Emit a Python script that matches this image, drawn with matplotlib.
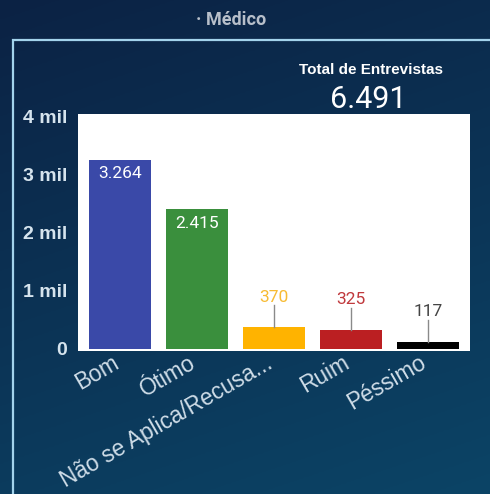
import matplotlib
matplotlib.use("Agg")
import matplotlib.pyplot as plt
import matplotlib.transforms as mtransforms
import numpy as np
from matplotlib.patches import Rectangle

categories = ["Bom", "Ótimo", "Não se Aplica/Recusa...", "Ruim", "Péssimo"]
values = [3264, 2415, 370, 325, 117]
value_labels = ["3.264", "2.415", "370", "325", "117"]
bar_colors = ["#3a49a8", "#3a8f3d", "#ffb300", "#bb1f22", "#000000"]
label_colors = ["#ffffff", "#ffffff", "#f7bb33", "#c0393d", "#444444"]
yticks = [0, 1000, 2000, 3000, 4000]
ytick_labels = ["0", "1 mil", "2 mil", "3 mil", "4 mil"]
total_label = "Total de Entrevistas"
total_value = "6.491"
title = "· Médico"

plt.rcParams['font.family'] = ['Roboto', 'DejaVu Sans']

fig = plt.figure(figsize=(4.9, 4.94), dpi=100)

# gradient background
bg = fig.add_axes([0, 0, 1, 1], zorder=-10)
yy, xx = np.mgrid[0:1:200j, 0:1:200j]
t = 0.75 * yy + 0.25 * xx
c0 = np.array([0x0c, 0x22, 0x44]) / 255
c1 = np.array([0x0b, 0x44, 0x66]) / 255
img = c0[None, None, :] * (1 - t[..., None]) + c1[None, None, :] * t[..., None]
bg.imshow(img, extent=[0, 1, 0, 1], aspect='auto', origin='upper')
bg.set_xlim(0, 1)
bg.set_ylim(0, 1)
bg.axis('off')

# panel border
bg.add_patch(Rectangle((12.5 / 490, -0.05), 1.0, 1 - 40 / 494 + 0.05,
                       fill=False, edgecolor="#a3d3ec", linewidth=1.6))

fig.text(231 / 490, 1 - 20 / 494, title, color="#b7bfca", fontsize=13,
         fontweight='bold', ha='center', va='center')
fig.text(371 / 490, 1 - 70 / 494, total_label, color="white", fontsize=11,
         fontweight='bold', ha='center', va='center',
         family=['Liberation Sans', 'DejaVu Sans'])
fig.text(368 / 490, 1 - 99 / 494, total_value, color="white", fontsize=22,
         ha='center', va='center')

ax = fig.add_axes([78 / 490, 1 - 351 / 494, 392 / 490, 237 / 494])
ax.set_facecolor("white")
x = np.arange(len(categories))
ax.bar(x, values, width=0.81, color=bar_colors)
ax.set_xlim(-0.55, 4.55)
ax.set_ylim(-40, 4050)

for i, v in enumerate(values):
    if v > 1000:
        ax.text(i, v - 120, value_labels[i], color=label_colors[i], fontsize=12.5,
                ha='center', va='top')
    else:
        ax.plot([i, i], [v, v + 380], color="#8a8a8a", linewidth=1)
        ax.text(i, v + 440, value_labels[i], color=label_colors[i], fontsize=12.5,
                ha='center', va='baseline')

ax.set_yticks(yticks)
ax.set_yticklabels(ytick_labels, fontweight='bold', fontsize=14,
                   family=['Liberation Sans', 'DejaVu Sans'])
ax.set_xticks(x)
ax.set_xticklabels(categories, rotation=30, ha='right', va='baseline',
                   rotation_mode='anchor', fontsize=16.3,
                   family=['Liberation Sans', 'DejaVu Sans'])
shift = mtransforms.ScaledTranslation(2 / 100, 0, fig.dpi_scale_trans)
for lbl in ax.get_xticklabels():
    lbl.set_transform(lbl.get_transform() + shift)
ax.tick_params(axis='y', length=0, colors="#d6e4ee", pad=8)
ax.tick_params(axis='x', length=0, colors="#cfdde8", pad=11.5)
for s in ax.spines.values():
    s.set_visible(False)

fig.savefig("out.png", dpi=100)
